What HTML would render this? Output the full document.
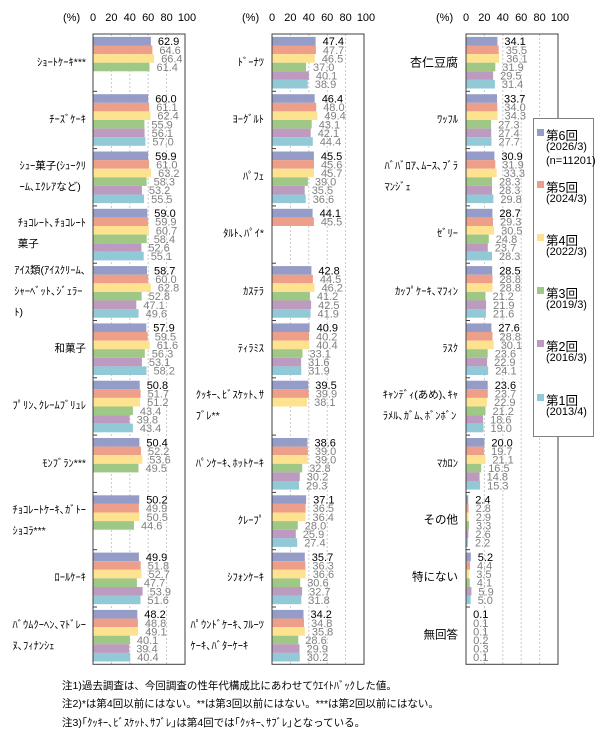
<!DOCTYPE html>
<html><head><meta charset="utf-8"><style>
body{margin:0;background:#fff}
#w{position:relative;width:608px;height:732px;overflow:hidden;font-family:"Liberation Sans","Noto Sans CJK JP",sans-serif}
svg{position:absolute;left:0;top:0}
.v{font:11px "Liberation Sans",sans-serif;fill:#808080}
.k{fill:#000}
.c1{fill:#959CC7}.c2{fill:#EE9F89}.c3{fill:#FDE38F}.c4{fill:#9FC887}.c5{fill:#BD9BC0}.c6{fill:#91C9D7}
.ax{font:11px "Liberation Sans",sans-serif;fill:#000}
.l{position:absolute;transform:translateY(-50%);font-size:10.5px;line-height:21px;white-space:nowrap;text-align:left;font-family:"Liberation Sans","Noto Sans CJK JP",sans-serif}
.n{position:absolute;left:62px;font-size:10.5px;white-space:nowrap}
.lg{position:absolute;font-size:11px;white-space:nowrap}
</style></head><body><div id="w">
<svg width="608" height="732" viewBox="0 0 608 732">
<defs>
<g id="grid">
<line x1="18.4" y1="34" x2="18.4" y2="664" stroke="#c8c8c8" stroke-dasharray="2,2"/>
<line x1="36.8" y1="34" x2="36.8" y2="664" stroke="#c8c8c8" stroke-dasharray="2,2"/>
<line x1="55.2" y1="34" x2="55.2" y2="664" stroke="#c8c8c8" stroke-dasharray="2,2"/>
<line x1="73.6" y1="34" x2="73.6" y2="664" stroke="#c8c8c8" stroke-dasharray="2,2"/>
</g>
<g id="ticks" stroke="#404040">
<line x1="0" y1="91.3" x2="4" y2="91.3"/><line x1="0" y1="148.6" x2="4" y2="148.6"/><line x1="0" y1="205.9" x2="4" y2="205.9"/><line x1="0" y1="263.2" x2="4" y2="263.2"/><line x1="0" y1="320.5" x2="4" y2="320.5"/><line x1="0" y1="377.8" x2="4" y2="377.8"/><line x1="0" y1="435.1" x2="4" y2="435.1"/><line x1="0" y1="492.4" x2="4" y2="492.4"/><line x1="0" y1="549.7" x2="4" y2="549.7"/><line x1="0" y1="607" x2="4" y2="607"/>
</g>
<g id="axl">
<text class="ax" x="-30" y="21">(%)</text>
<text class="ax" x="0" y="21" text-anchor="middle">0</text>
<text class="ax" x="18.4" y="21" text-anchor="middle">20</text>
<text class="ax" x="36.8" y="21" text-anchor="middle">40</text>
<text class="ax" x="55.2" y="21" text-anchor="middle">60</text>
<text class="ax" x="73.6" y="21" text-anchor="middle">80</text>
<text class="ax" x="94" y="21" text-anchor="middle">100</text>
</g>
</defs>

<!-- Panel 1 -->
<g transform="translate(93,0)">
<use href="#grid"/><use href="#axl"/>
<g transform="translate(0,34)"><rect class="c1" y="2.9" height="8.6" width="57.9"/><rect class="c2" y="11.5" height="8.6" width="59.4"/><rect class="c3" y="20.1" height="8.6" width="61.1"/><rect class="c4" y="28.7" height="8.6" width="56.5"/>
<text class="v k" x="64.9" y="11.2">62.9</text><text class="v" x="66.4" y="19.8">64.6</text><text class="v" x="68.1" y="28.4">66.4</text><text class="v" x="63.5" y="37">61.4</text></g>
<g transform="translate(0,91.3)"><rect class="c1" y="2.9" height="8.6" width="55.2"/><rect class="c2" y="11.5" height="8.6" width="56.2"/><rect class="c3" y="20.1" height="8.6" width="57.4"/><rect class="c4" y="28.7" height="8.6" width="51.4"/><rect class="c5" y="37.3" height="8.6" width="51.6"/><rect class="c6" y="45.9" height="8.6" width="52.4"/>
<text class="v k" x="62.2" y="11.2">60.0</text><text class="v" x="63.2" y="19.8">61.1</text><text class="v" x="64.4" y="28.4">62.4</text><text class="v" x="58.4" y="37">55.9</text><text class="v" x="58.6" y="45.6">56.1</text><text class="v" x="59.4" y="54.2">57.0</text></g>
<g transform="translate(0,148.6)"><rect class="c1" y="2.9" height="8.6" width="55.1"/><rect class="c2" y="11.5" height="8.6" width="56.1"/><rect class="c3" y="20.1" height="8.6" width="58.1"/><rect class="c4" y="28.7" height="8.6" width="53.6"/><rect class="c5" y="37.3" height="8.6" width="48.9"/><rect class="c6" y="45.9" height="8.6" width="51.1"/>
<text class="v k" x="62.1" y="11.2">59.9</text><text class="v" x="63.1" y="19.8">61.0</text><text class="v" x="65.1" y="28.4">63.2</text><text class="v" x="60.6" y="37">58.3</text><text class="v" x="55.9" y="45.6">53.2</text><text class="v" x="58.1" y="54.2">55.5</text></g>
<g transform="translate(0,205.9)"><rect class="c1" y="2.9" height="8.6" width="54.3"/><rect class="c2" y="11.5" height="8.6" width="55.1"/><rect class="c3" y="20.1" height="8.6" width="55.8"/><rect class="c4" y="28.7" height="8.6" width="53.7"/><rect class="c5" y="37.3" height="8.6" width="48.4"/><rect class="c6" y="45.9" height="8.6" width="50.7"/>
<text class="v k" x="61.3" y="11.2">59.0</text><text class="v" x="62.1" y="19.8">59.9</text><text class="v" x="62.8" y="28.4">60.7</text><text class="v" x="60.7" y="37">58.4</text><text class="v" x="55.4" y="45.6">52.6</text><text class="v" x="57.7" y="54.2">55.1</text></g>
<g transform="translate(0,263.2)"><rect class="c1" y="2.9" height="8.6" width="54.0"/><rect class="c2" y="11.5" height="8.6" width="55.2"/><rect class="c3" y="20.1" height="8.6" width="57.8"/><rect class="c4" y="28.7" height="8.6" width="48.6"/><rect class="c5" y="37.3" height="8.6" width="43.3"/><rect class="c6" y="45.9" height="8.6" width="45.6"/>
<text class="v k" x="61" y="11.2">58.7</text><text class="v" x="62.2" y="19.8">60.0</text><text class="v" x="64.8" y="28.4">62.8</text><text class="v" x="55.6" y="37">52.8</text><text class="v" x="50.3" y="45.6">47.1</text><text class="v" x="52.6" y="54.2">49.6</text></g>
<g transform="translate(0,320.5)"><rect class="c1" y="2.9" height="8.6" width="53.3"/><rect class="c2" y="11.5" height="8.6" width="54.7"/><rect class="c3" y="20.1" height="8.6" width="56.7"/><rect class="c4" y="28.7" height="8.6" width="51.8"/><rect class="c5" y="37.3" height="8.6" width="48.9"/><rect class="c6" y="45.9" height="8.6" width="53.5"/>
<text class="v k" x="60.3" y="11.2">57.9</text><text class="v" x="61.7" y="19.8">59.5</text><text class="v" x="63.7" y="28.4">61.6</text><text class="v" x="58.8" y="37">56.3</text><text class="v" x="55.9" y="45.6">53.1</text><text class="v" x="60.5" y="54.2">58.2</text></g>
<g transform="translate(0,377.8)"><rect class="c1" y="2.9" height="8.6" width="46.7"/><rect class="c2" y="11.5" height="8.6" width="47.6"/><rect class="c3" y="20.1" height="8.6" width="47.1"/><rect class="c4" y="28.7" height="8.6" width="39.9"/><rect class="c5" y="37.3" height="8.6" width="36.6"/><rect class="c6" y="45.9" height="8.6" width="39.9"/>
<text class="v k" x="53.7" y="11.2">50.8</text><text class="v" x="54.6" y="19.8">51.7</text><text class="v" x="54.1" y="28.4">51.2</text><text class="v" x="46.9" y="37">43.4</text><text class="v" x="43.6" y="45.6">39.8</text><text class="v" x="46.9" y="54.2">43.4</text></g>
<g transform="translate(0,435.1)"><rect class="c1" y="2.9" height="8.6" width="46.4"/><rect class="c2" y="11.5" height="8.6" width="48.0"/><rect class="c3" y="20.1" height="8.6" width="49.3"/><rect class="c4" y="28.7" height="8.6" width="45.5"/>
<text class="v k" x="53.4" y="11.2">50.4</text><text class="v" x="55" y="19.8">52.2</text><text class="v" x="56.3" y="28.4">53.6</text><text class="v" x="52.5" y="37">49.5</text></g>
<g transform="translate(0,492.4)"><rect class="c1" y="2.9" height="8.6" width="46.2"/><rect class="c2" y="11.5" height="8.6" width="45.9"/><rect class="c3" y="20.1" height="8.6" width="46.5"/><rect class="c4" y="28.7" height="8.6" width="41.0"/>
<text class="v k" x="53.2" y="11.2">50.2</text><text class="v" x="52.9" y="19.8">49.9</text><text class="v" x="53.5" y="28.4">50.5</text><text class="v" x="48" y="37">44.6</text></g>
<g transform="translate(0,549.7)"><rect class="c1" y="2.9" height="8.6" width="45.9"/><rect class="c2" y="11.5" height="8.6" width="47.7"/><rect class="c3" y="20.1" height="8.6" width="48.5"/><rect class="c4" y="28.7" height="8.6" width="43.9"/><rect class="c5" y="37.3" height="8.6" width="49.6"/><rect class="c6" y="45.9" height="8.6" width="47.5"/>
<text class="v k" x="52.9" y="11.2">49.9</text><text class="v" x="54.7" y="19.8">51.8</text><text class="v" x="55.5" y="28.4">52.7</text><text class="v" x="50.9" y="37">47.7</text><text class="v" x="56.6" y="45.6">53.9</text><text class="v" x="54.5" y="54.2">51.6</text></g>
<g transform="translate(0,607)"><rect class="c1" y="2.9" height="8.6" width="44.3"/><rect class="c2" y="11.5" height="8.6" width="44.9"/><rect class="c3" y="20.1" height="8.6" width="45.2"/><rect class="c4" y="28.7" height="8.6" width="36.9"/><rect class="c5" y="37.3" height="8.6" width="36.2"/><rect class="c6" y="45.9" height="8.6" width="37.2"/>
<text class="v k" x="51.3" y="11.2">48.2</text><text class="v" x="51.9" y="19.8">48.8</text><text class="v" x="52.2" y="28.4">49.1</text><text class="v" x="43.9" y="37">40.1</text><text class="v" x="43.2" y="45.6">39.4</text><text class="v" x="44.2" y="54.2">40.4</text></g>
<rect x="0" y="34" width="92" height="630.3" fill="none" stroke="#404040"/><use href="#ticks"/>
</g>

<!-- Panel 2 -->
<g transform="translate(272,0)">
<use href="#grid"/><use href="#axl"/>
<g transform="translate(0,34)"><rect class="c1" y="2.9" height="8.6" width="43.6"/><rect class="c2" y="11.5" height="8.6" width="43.9"/><rect class="c3" y="20.1" height="8.6" width="42.8"/><rect class="c4" y="28.7" height="8.6" width="34.0"/><rect class="c5" y="37.3" height="8.6" width="36.9"/><rect class="c6" y="45.9" height="8.6" width="35.8"/>
<text class="v k" x="50.6" y="11.2">47.4</text><text class="v" x="50.9" y="19.8">47.7</text><text class="v" x="49.8" y="28.4">46.5</text><text class="v" x="41" y="37">37.0</text><text class="v" x="43.9" y="45.6">40.1</text><text class="v" x="42.8" y="54.2">38.9</text></g>
<g transform="translate(0,91.3)"><rect class="c1" y="2.9" height="8.6" width="42.7"/><rect class="c2" y="11.5" height="8.6" width="44.2"/><rect class="c3" y="20.1" height="8.6" width="45.4"/><rect class="c4" y="28.7" height="8.6" width="39.7"/><rect class="c5" y="37.3" height="8.6" width="38.7"/><rect class="c6" y="45.9" height="8.6" width="40.8"/>
<text class="v k" x="49.7" y="11.2">46.4</text><text class="v" x="51.2" y="19.8">48.0</text><text class="v" x="52.4" y="28.4">49.4</text><text class="v" x="46.7" y="37">43.1</text><text class="v" x="45.7" y="45.6">42.1</text><text class="v" x="47.8" y="54.2">44.4</text></g>
<g transform="translate(0,148.6)"><rect class="c1" y="2.9" height="8.6" width="41.9"/><rect class="c2" y="11.5" height="8.6" width="42.0"/><rect class="c3" y="20.1" height="8.6" width="42.0"/><rect class="c4" y="28.7" height="8.6" width="35.9"/><rect class="c5" y="37.3" height="8.6" width="32.7"/><rect class="c6" y="45.9" height="8.6" width="33.7"/>
<text class="v k" x="48.9" y="11.2">45.5</text><text class="v" x="49" y="19.8">45.6</text><text class="v" x="49" y="28.4">45.7</text><text class="v" x="42.9" y="37">39.0</text><text class="v" x="39.7" y="45.6">35.5</text><text class="v" x="40.7" y="54.2">36.6</text></g>
<g transform="translate(0,205.9)"><rect class="c1" y="2.9" height="8.6" width="40.6"/><rect class="c2" y="11.5" height="8.6" width="41.9"/>
<text class="v k" x="47.6" y="11.2">44.1</text><text class="v" x="48.9" y="19.8">45.5</text></g>
<g transform="translate(0,263.2)"><rect class="c1" y="2.9" height="8.6" width="39.4"/><rect class="c2" y="11.5" height="8.6" width="40.9"/><rect class="c3" y="20.1" height="8.6" width="42.5"/><rect class="c4" y="28.7" height="8.6" width="37.9"/><rect class="c5" y="37.3" height="8.6" width="39.1"/><rect class="c6" y="45.9" height="8.6" width="38.5"/>
<text class="v k" x="46.4" y="11.2">42.8</text><text class="v" x="47.9" y="19.8">44.5</text><text class="v" x="49.5" y="28.4">46.2</text><text class="v" x="44.9" y="37">41.2</text><text class="v" x="46.1" y="45.6">42.5</text><text class="v" x="45.5" y="54.2">41.9</text></g>
<g transform="translate(0,320.5)"><rect class="c1" y="2.9" height="8.6" width="37.6"/><rect class="c2" y="11.5" height="8.6" width="37.0"/><rect class="c3" y="20.1" height="8.6" width="37.2"/><rect class="c4" y="28.7" height="8.6" width="30.5"/><rect class="c5" y="37.3" height="8.6" width="29.1"/><rect class="c6" y="45.9" height="8.6" width="29.3"/>
<text class="v k" x="44.6" y="11.2">40.9</text><text class="v" x="44" y="19.8">40.2</text><text class="v" x="44.2" y="28.4">40.4</text><text class="v" x="37.5" y="37">33.1</text><text class="v" x="36.1" y="45.6">31.6</text><text class="v" x="36.3" y="54.2">31.9</text></g>
<g transform="translate(0,377.8)"><rect class="c1" y="2.9" height="8.6" width="36.3"/><rect class="c2" y="11.5" height="8.6" width="36.7"/><rect class="c3" y="20.1" height="8.6" width="35.1"/>
<text class="v k" x="43.3" y="11.2">39.5</text><text class="v" x="43.7" y="19.8">39.9</text><text class="v" x="42.1" y="28.4">38.1</text></g>
<g transform="translate(0,435.1)"><rect class="c1" y="2.9" height="8.6" width="35.5"/><rect class="c2" y="11.5" height="8.6" width="35.9"/><rect class="c3" y="20.1" height="8.6" width="35.9"/><rect class="c4" y="28.7" height="8.6" width="30.2"/><rect class="c5" y="37.3" height="8.6" width="27.8"/><rect class="c6" y="45.9" height="8.6" width="27.0"/>
<text class="v k" x="42.5" y="11.2">38.6</text><text class="v" x="42.9" y="19.8">39.0</text><text class="v" x="42.9" y="28.4">39.0</text><text class="v" x="37.2" y="37">32.8</text><text class="v" x="34.8" y="45.6">30.2</text><text class="v" x="34" y="54.2">29.3</text></g>
<g transform="translate(0,492.4)"><rect class="c1" y="2.9" height="8.6" width="34.1"/><rect class="c2" y="11.5" height="8.6" width="33.6"/><rect class="c3" y="20.1" height="8.6" width="33.5"/><rect class="c4" y="28.7" height="8.6" width="25.8"/><rect class="c5" y="37.3" height="8.6" width="23.8"/><rect class="c6" y="45.9" height="8.6" width="25.2"/>
<text class="v k" x="41.1" y="11.2">37.1</text><text class="v" x="40.6" y="19.8">36.5</text><text class="v" x="40.5" y="28.4">36.4</text><text class="v" x="32.8" y="37">28.0</text><text class="v" x="30.8" y="45.6">25.9</text><text class="v" x="32.2" y="54.2">27.4</text></g>
<g transform="translate(0,549.7)"><rect class="c1" y="2.9" height="8.6" width="32.8"/><rect class="c2" y="11.5" height="8.6" width="33.4"/><rect class="c3" y="20.1" height="8.6" width="33.7"/><rect class="c4" y="28.7" height="8.6" width="28.2"/><rect class="c5" y="37.3" height="8.6" width="30.1"/><rect class="c6" y="45.9" height="8.6" width="29.3"/>
<text class="v k" x="39.8" y="11.2">35.7</text><text class="v" x="40.4" y="19.8">36.3</text><text class="v" x="40.7" y="28.4">36.6</text><text class="v" x="35.2" y="37">30.6</text><text class="v" x="37.1" y="45.6">32.7</text><text class="v" x="36.3" y="54.2">31.8</text></g>
<g transform="translate(0,607)"><rect class="c1" y="2.9" height="8.6" width="31.5"/><rect class="c2" y="11.5" height="8.6" width="32.0"/><rect class="c3" y="20.1" height="8.6" width="32.9"/><rect class="c4" y="28.7" height="8.6" width="26.3"/><rect class="c5" y="37.3" height="8.6" width="27.5"/><rect class="c6" y="45.9" height="8.6" width="27.8"/>
<text class="v k" x="38.5" y="11.2">34.2</text><text class="v" x="39" y="19.8">34.8</text><text class="v" x="39.9" y="28.4">35.8</text><text class="v" x="33.3" y="37">28.6</text><text class="v" x="34.5" y="45.6">29.9</text><text class="v" x="34.8" y="54.2">30.2</text></g>
<rect x="0" y="34" width="92" height="630.3" fill="none" stroke="#404040"/><use href="#ticks"/>
</g>

<!-- Panel 3 -->
<g transform="translate(466,0)">
<use href="#grid"/><use href="#axl"/>
<g transform="translate(0,34)"><rect class="c1" y="2.9" height="8.6" width="31.4"/><rect class="c2" y="11.5" height="8.6" width="32.7"/><rect class="c3" y="20.1" height="8.6" width="33.2"/><rect class="c4" y="28.7" height="8.6" width="29.3"/><rect class="c5" y="37.3" height="8.6" width="27.1"/><rect class="c6" y="45.9" height="8.6" width="28.9"/>
<text class="v k" x="38.4" y="11.2">34.1</text><text class="v" x="39.7" y="19.8">35.5</text><text class="v" x="40.2" y="28.4">36.1</text><text class="v" x="36.3" y="37">31.9</text><text class="v" x="34.1" y="45.6">29.5</text><text class="v" x="35.9" y="54.2">31.4</text></g>
<g transform="translate(0,91.3)"><rect class="c1" y="2.9" height="8.6" width="31.0"/><rect class="c2" y="11.5" height="8.6" width="31.3"/><rect class="c3" y="20.1" height="8.6" width="31.6"/><rect class="c4" y="28.7" height="8.6" width="25.1"/><rect class="c5" y="37.3" height="8.6" width="25.2"/><rect class="c6" y="45.9" height="8.6" width="25.5"/>
<text class="v k" x="38" y="11.2">33.7</text><text class="v" x="38.3" y="19.8">34.0</text><text class="v" x="38.6" y="28.4">34.3</text><text class="v" x="32.1" y="37">27.3</text><text class="v" x="32.2" y="45.6">27.4</text><text class="v" x="32.5" y="54.2">27.7</text></g>
<g transform="translate(0,148.6)"><rect class="c1" y="2.9" height="8.6" width="28.4"/><rect class="c2" y="11.5" height="8.6" width="29.3"/><rect class="c3" y="20.1" height="8.6" width="30.6"/><rect class="c4" y="28.7" height="8.6" width="26.0"/><rect class="c5" y="37.3" height="8.6" width="26.0"/><rect class="c6" y="45.9" height="8.6" width="27.4"/>
<text class="v k" x="35.4" y="11.2">30.9</text><text class="v" x="36.3" y="19.8">31.9</text><text class="v" x="37.6" y="28.4">33.3</text><text class="v" x="33" y="37">28.3</text><text class="v" x="33" y="45.6">28.3</text><text class="v" x="34.4" y="54.2">29.8</text></g>
<g transform="translate(0,205.9)"><rect class="c1" y="2.9" height="8.6" width="26.4"/><rect class="c2" y="11.5" height="8.6" width="27.0"/><rect class="c3" y="20.1" height="8.6" width="28.1"/><rect class="c4" y="28.7" height="8.6" width="22.8"/><rect class="c5" y="37.3" height="8.6" width="21.8"/><rect class="c6" y="45.9" height="8.6" width="26.0"/>
<text class="v k" x="33.4" y="11.2">28.7</text><text class="v" x="34" y="19.8">29.3</text><text class="v" x="35.1" y="28.4">30.5</text><text class="v" x="29.8" y="37">24.8</text><text class="v" x="28.8" y="45.6">23.7</text><text class="v" x="33" y="54.2">28.3</text></g>
<g transform="translate(0,263.2)"><rect class="c1" y="2.9" height="8.6" width="26.2"/><rect class="c2" y="11.5" height="8.6" width="26.5"/><rect class="c3" y="20.1" height="8.6" width="26.5"/><rect class="c4" y="28.7" height="8.6" width="19.5"/><rect class="c5" y="37.3" height="8.6" width="20.1"/><rect class="c6" y="45.9" height="8.6" width="19.9"/>
<text class="v k" x="33.2" y="11.2">28.5</text><text class="v" x="33.5" y="19.8">28.8</text><text class="v" x="33.5" y="28.4">28.8</text><text class="v" x="26.5" y="37">21.2</text><text class="v" x="27.1" y="45.6">21.9</text><text class="v" x="26.9" y="54.2">21.6</text></g>
<g transform="translate(0,320.5)"><rect class="c1" y="2.9" height="8.6" width="25.4"/><rect class="c2" y="11.5" height="8.6" width="26.5"/><rect class="c3" y="20.1" height="8.6" width="27.7"/><rect class="c4" y="28.7" height="8.6" width="21.7"/><rect class="c5" y="37.3" height="8.6" width="21.1"/><rect class="c6" y="45.9" height="8.6" width="22.2"/>
<text class="v k" x="32.4" y="11.2">27.6</text><text class="v" x="33.5" y="19.8">28.8</text><text class="v" x="34.7" y="28.4">30.1</text><text class="v" x="28.7" y="37">23.6</text><text class="v" x="28.1" y="45.6">22.9</text><text class="v" x="29.2" y="54.2">24.1</text></g>
<g transform="translate(0,377.8)"><rect class="c1" y="2.9" height="8.6" width="21.7"/><rect class="c2" y="11.5" height="8.6" width="21.8"/><rect class="c3" y="20.1" height="8.6" width="21.1"/><rect class="c4" y="28.7" height="8.6" width="19.5"/><rect class="c5" y="37.3" height="8.6" width="17.1"/><rect class="c6" y="45.9" height="8.6" width="17.5"/>
<text class="v k" x="28.7" y="11.2">23.6</text><text class="v" x="28.8" y="19.8">23.7</text><text class="v" x="28.1" y="28.4">22.9</text><text class="v" x="26.5" y="37">21.2</text><text class="v" x="24.1" y="45.6">18.6</text><text class="v" x="24.5" y="54.2">19.0</text></g>
<g transform="translate(0,435.1)"><rect class="c1" y="2.9" height="8.6" width="18.4"/><rect class="c2" y="11.5" height="8.6" width="18.1"/><rect class="c3" y="20.1" height="8.6" width="19.4"/><rect class="c4" y="28.7" height="8.6" width="15.2"/><rect class="c5" y="37.3" height="8.6" width="13.6"/><rect class="c6" y="45.9" height="8.6" width="14.1"/>
<text class="v k" x="25.4" y="11.2">20.0</text><text class="v" x="25.1" y="19.8">19.7</text><text class="v" x="26.4" y="28.4">21.1</text><text class="v" x="22.2" y="37">16.5</text><text class="v" x="20.6" y="45.6">14.8</text><text class="v" x="21.1" y="54.2">15.3</text></g>
<g transform="translate(0,492.4)"><rect class="c1" y="2.9" height="8.6" width="2.2"/><rect class="c2" y="11.5" height="8.6" width="2.6"/><rect class="c3" y="20.1" height="8.6" width="2.7"/><rect class="c4" y="28.7" height="8.6" width="3.0"/><rect class="c5" y="37.3" height="8.6" width="2.4"/><rect class="c6" y="45.9" height="8.6" width="2.0"/>
<text class="v k" x="9.2" y="11.2">2.4</text><text class="v" x="9.6" y="19.8">2.8</text><text class="v" x="9.7" y="28.4">2.9</text><text class="v" x="10" y="37">3.3</text><text class="v" x="9.4" y="45.6">2.6</text><text class="v" x="9" y="54.2">2.2</text></g>
<g transform="translate(0,549.7)"><rect class="c1" y="2.9" height="8.6" width="4.8"/><rect class="c2" y="11.5" height="8.6" width="4.0"/><rect class="c3" y="20.1" height="8.6" width="3.2"/><rect class="c4" y="28.7" height="8.6" width="3.8"/><rect class="c5" y="37.3" height="8.6" width="5.4"/><rect class="c6" y="45.9" height="8.6" width="4.6"/>
<text class="v k" x="11.8" y="11.2">5.2</text><text class="v" x="11" y="19.8">4.4</text><text class="v" x="10.2" y="28.4">3.5</text><text class="v" x="10.8" y="37">4.1</text><text class="v" x="12.4" y="45.6">5.9</text><text class="v" x="11.6" y="54.2">5.0</text></g>
<g transform="translate(0,607)"><rect class="c1" y="2.9" height="8.6" width="0.4"/><rect class="c2" y="11.5" height="8.6" width="0.4"/><rect class="c3" y="20.1" height="8.6" width="0.4"/><rect class="c4" y="28.7" height="8.6" width="0.4"/><rect class="c5" y="37.3" height="8.6" width="0.4"/><rect class="c6" y="45.9" height="8.6" width="0.4"/>
<text class="v k" x="7.1" y="11.2">0.1</text><text class="v" x="7.1" y="19.8">0.1</text><text class="v" x="7.1" y="28.4">0.1</text><text class="v" x="7.2" y="37">0.2</text><text class="v" x="7.3" y="45.6">0.3</text><text class="v" x="7.1" y="54.2">0.1</text></g>
<rect x="0" y="34" width="92" height="630.3" fill="none" stroke="#404040"/><use href="#ticks"/>
</g>

<!-- legend -->
<rect x="533.5" y="118.5" width="60" height="318" fill="#fff" stroke="#808080"/>
<rect class="c1" x="537" y="129" width="7" height="7"/>
<rect class="c2" x="537" y="181" width="7" height="7"/>
<rect class="c3" x="537" y="234" width="7" height="7"/>
<rect class="c4" x="537" y="287" width="7" height="7"/>
<rect class="c5" x="537" y="340" width="7" height="7"/>
<rect class="c6" x="537" y="394" width="7" height="7"/>
</svg>

<div class="lg" style="left:546px;top:125px;font-size:12.5px">第6回</div>
<div class="lg" style="left:546px;top:141px">(2026/3)</div>
<div class="lg" style="left:546px;top:155px">(n=11201)</div>
<div class="lg" style="left:546px;top:177px;font-size:12.5px">第5回</div>
<div class="lg" style="left:546px;top:193px">(2024/3)</div>
<div class="lg" style="left:546px;top:230px;font-size:12.5px">第4回</div>
<div class="lg" style="left:546px;top:246px">(2022/3)</div>
<div class="lg" style="left:546px;top:283px;font-size:12.5px">第3回</div>
<div class="lg" style="left:546px;top:299px">(2019/3)</div>
<div class="lg" style="left:546px;top:336px;font-size:12.5px">第2回</div>
<div class="lg" style="left:546px;top:352px">(2016/3)</div>
<div class="lg" style="left:546px;top:390px;font-size:12.5px">第1回</div>
<div class="lg" style="left:546px;top:406px">(2013/4)</div>

<!-- panel 1 labels -->
<div class="l" style="right:522px;top:63px">ｼｮｰﾄｹｰｷ***</div>
<div class="l" style="right:522px;top:120px">ﾁｰｽﾞｹｰｷ</div>
<div class="l" style="right:522px;top:177px">ｼｭｰ菓子(ｼｭｰｸﾘ<br>ｰﾑ､ｴｸﾚｱなど)</div>
<div class="l" style="right:522px;top:234px">ﾁｮｺﾚｰﾄ､ﾁｮｺﾚｰﾄ<br>菓子</div>
<div class="l" style="right:522px;top:292px">ｱｲｽ類(ｱｲｽｸﾘｰﾑ､<br>ｼｬｰﾍﾞｯﾄ､ｼﾞｪﾗｰ<br>ﾄ)</div>
<div class="l" style="right:522px;top:349px">和菓子</div>
<div class="l" style="right:522px;top:406px">ﾌﾟﾘﾝ､ｸﾚｰﾑﾌﾞﾘｭﾚ</div>
<div class="l" style="right:522px;top:464px">ﾓﾝﾌﾞﾗﾝ***</div>
<div class="l" style="right:522px;top:521px">ﾁｮｺﾚｰﾄｹｰｷ､ｶﾞﾄｰ<br>ｼｮｺﾗ***</div>
<div class="l" style="right:522px;top:578px">ﾛｰﾙｹｰｷ</div>
<div class="l" style="right:522px;top:636px">ﾊﾞｳﾑｸｰﾍﾝ､ﾏﾄﾞﾚｰ<br>ﾇ､ﾌｨﾅﾝｼｪ</div>

<!-- panel 2 labels -->
<div class="l" style="right:344px;top:63px">ﾄﾞｰﾅﾂ</div>
<div class="l" style="right:344px;top:120px">ﾖｰｸﾞﾙﾄ</div>
<div class="l" style="right:344px;top:177px">ﾊﾟﾌｪ</div>
<div class="l" style="right:344px;top:234px">ﾀﾙﾄ､ﾊﾟｲ*</div>
<div class="l" style="right:344px;top:292px">ｶｽﾃﾗ</div>
<div class="l" style="right:344px;top:349px">ﾃｨﾗﾐｽ</div>
<div class="l" style="right:344px;top:406px">ｸｯｷｰ､ﾋﾞｽｹｯﾄ､ｻ<br>ﾌﾞﾚ**</div>
<div class="l" style="right:344px;top:464px">ﾊﾟﾝｹｰｷ､ﾎｯﾄｹｰｷ</div>
<div class="l" style="right:344px;top:521px">ｸﾚｰﾌﾟ</div>
<div class="l" style="right:344px;top:578px">ｼﾌｫﾝｹｰｷ</div>
<div class="l" style="right:344px;top:636px">ﾊﾟｳﾝﾄﾞｹｰｷ､ﾌﾙｰﾂ<br>ｹｰｷ､ﾊﾞﾀｰｹｰｷ</div>

<!-- panel 3 labels -->
<div class="l" style="right:150px;top:63px;font-size:12px">杏仁豆腐</div>
<div class="l" style="right:150px;top:120px">ﾜｯﾌﾙ</div>
<div class="l" style="right:150px;top:177px">ﾊﾞﾊﾞﾛｱ､ﾑｰｽ､ﾌﾞﾗ<br>ﾏﾝｼﾞｪ</div>
<div class="l" style="right:150px;top:234px">ｾﾞﾘｰ</div>
<div class="l" style="right:150px;top:292px">ｶｯﾌﾟｹｰｷ､ﾏﾌｨﾝ</div>
<div class="l" style="right:150px;top:349px">ﾗｽｸ</div>
<div class="l" style="right:150px;top:406px">ｷｬﾝﾃﾞｨ(あめ)､ｷｬ<br>ﾗﾒﾙ､ｶﾞﾑ､ﾎﾞﾝﾎﾞﾝ</div>
<div class="l" style="right:150px;top:464px">ﾏｶﾛﾝ</div>
<div class="l" style="right:150px;top:521px;font-size:11.5px">その他</div>
<div class="l" style="right:150px;top:578px;font-size:11.5px">特にない</div>
<div class="l" style="right:150px;top:636px;font-size:11.5px">無回答</div>

<div class="n" style="top:678px">注1)過去調査は、今回調査の性年代構成比にあわせてｳｴｲﾄﾊﾞｯｸした値。</div>
<div class="n" style="top:696px">注2)*は第4回以前にはない。**は第3回以前にはない。***は第2回以前にはない。</div>
<div class="n" style="top:715px">注3)｢ｸｯｷｰ､ﾋﾞｽｹｯﾄ､ｻﾌﾞﾚ｣は第4回では｢ｸｯｷｰ､ｻﾌﾞﾚ｣となっている。</div>
</div></body></html>
